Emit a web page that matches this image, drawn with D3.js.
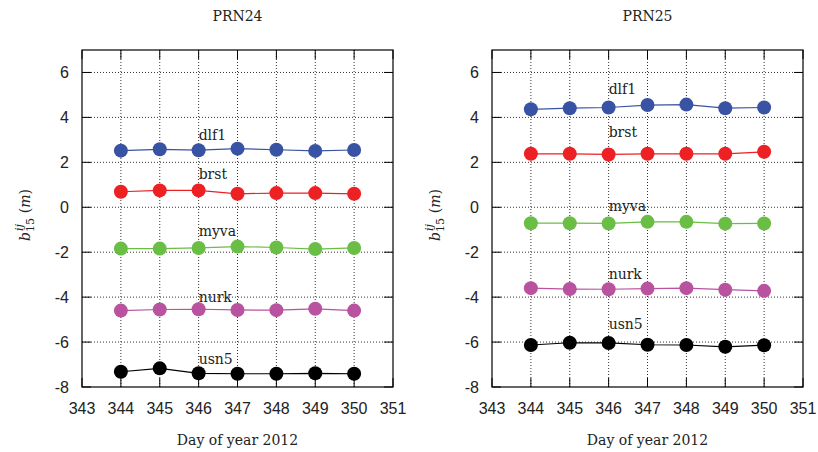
<!DOCTYPE html>
<html>
<head>
<meta charset="utf-8">
<script src="https://cdn.jsdelivr.net/npm/d3@7"></script>
<style>
  body { margin: 0; background: #fff; }
  svg { display: block; }
</style>
</head>
<body>
<svg id="canvas" width="818" height="452"></svg>
<script>
const days = [344, 345, 346, 347, 348, 349, 350]
const stations = ["dlf1", "brst", "myva", "nurk", "usn5"]
const colors = ["#3953a4", "#ed2024", "#6abd45", "#b9529f", "#000000"]
const xTicks = [343, 344, 345, 346, 347, 348, 349, 350, 351]
const yTicks = [-8, -6, -4, -2, 0, 2, 4, 6]

// PRN24
const prn24 = [
  [2.52, 2.58, 2.54, 2.61, 2.56, 2.51, 2.55],
  [0.69, 0.75, 0.75, 0.60, 0.63, 0.63, 0.60],
  [-1.84, -1.84, -1.81, -1.75, -1.79, -1.86, -1.81],
  [-4.60, -4.55, -4.54, -4.57, -4.58, -4.52, -4.60],
  [-7.32, -7.17, -7.39, -7.41, -7.41, -7.39, -7.41]
]
const prn24Labels = [2.99, 1.24, -1.30, -4.22, -6.98]

// PRN25
const prn25 = [
  [4.36, 4.41, 4.44, 4.55, 4.57, 4.41, 4.44],
  [2.38, 2.38, 2.35, 2.38, 2.38, 2.38, 2.47],
  [-0.71, -0.71, -0.72, -0.65, -0.65, -0.73, -0.72],
  [-3.60, -3.64, -3.65, -3.62, -3.60, -3.67, -3.72],
  [-6.13, -6.03, -6.04, -6.12, -6.13, -6.21, -6.14]
]
const prn25Labels = [5.03, 3.14, -0.18, -3.20, -5.43]

const svg = d3.select("#canvas")
const serif = "'DejaVu Serif', serif"
const sans = "'Liberation Sans', Arial, sans-serif"

function panel(left, title, series, labelY) {
  const x = d3.scaleLinear().domain([343, 351]).range([left, left + 311])
  const y = d3.scaleLinear().domain([-8, 7]).range([387, 50])
  const g = svg.append("g")

  // grid
  g.selectAll(".gx").data(xTicks.slice(1, -1)).enter().append("line")
    .attr("x1", d => x(d)).attr("x2", d => x(d))
    .attr("y1", y(7)).attr("y2", y(-8))
    .attr("stroke", "#000").attr("stroke-width", 0.8).attr("stroke-dasharray", "1,2")
  g.selectAll(".gy").data(yTicks.slice(1)).enter().append("line")
    .attr("x1", x(343)).attr("x2", x(351))
    .attr("y1", d => y(d)).attr("y2", d => y(d))
    .attr("stroke", "#000").attr("stroke-width", 0.8).attr("stroke-dasharray", "1,2")

  // ticks (inward, all four sides)
  const tk = 9
  g.selectAll(".tb").data(xTicks).enter().append("line")
    .attr("x1", d => x(d)).attr("x2", d => x(d))
    .attr("y1", y(-8)).attr("y2", y(-8) - tk).attr("stroke", "#000")
  g.selectAll(".tt").data(xTicks).enter().append("line")
    .attr("x1", d => x(d)).attr("x2", d => x(d))
    .attr("y1", y(7)).attr("y2", y(7) + tk).attr("stroke", "#000")
  g.selectAll(".tl").data(yTicks).enter().append("line")
    .attr("x1", x(343)).attr("x2", x(343) + tk)
    .attr("y1", d => y(d)).attr("y2", d => y(d)).attr("stroke", "#000")
  g.selectAll(".tr").data(yTicks).enter().append("line")
    .attr("x1", x(351)).attr("x2", x(351) - tk)
    .attr("y1", d => y(d)).attr("y2", d => y(d)).attr("stroke", "#000")

  // frame
  g.append("rect")
    .attr("x", x(343)).attr("y", y(7))
    .attr("width", x(351) - x(343)).attr("height", y(-8) - y(7))
    .attr("fill", "none").attr("stroke", "#000").attr("stroke-width", 1.2)

  // tick labels
  g.selectAll(".xl").data(xTicks).enter().append("text")
    .attr("x", d => x(d)).attr("y", 414)
    .attr("text-anchor", "middle")
    .style("font-family", sans).style("font-size", "16px").attr("fill", "#222")
    .text(d => d)
  g.selectAll(".yl").data(yTicks).enter().append("text")
    .attr("x", x(343) - 13).attr("y", d => y(d) + 6)
    .attr("text-anchor", "end")
    .style("font-family", sans).style("font-size", "16px").attr("fill", "#222")
    .text(d => d)

  // titles
  g.append("text").attr("x", (x(343) + x(351)) / 2).attr("y", 21)
    .attr("text-anchor", "middle").style("font-family", serif).style("font-size", "14px")
    .attr("fill", "#222").text(title)
  g.append("text").attr("x", (x(343) + x(351)) / 2).attr("y", 445)
    .attr("text-anchor", "middle").style("font-family", serif).style("font-size", "14px")
    .attr("fill", "#222").text("Day of year 2012")

  // y label
  const yl = g.append("text")
    .attr("transform", `translate(${left - 52},215) rotate(-90)`)
    .attr("text-anchor", "middle")
    .style("font-family", serif).style("font-size", "14px").attr("fill", "#222")
  yl.append("tspan").style("font-style", "italic").text("b")
  yl.append("tspan").style("font-size", "11px").attr("dy", 4).text("15")
  yl.append("tspan").style("font-size", "11px").style("font-style", "italic")
    .attr("dx", -13).attr("dy", -11).text("ij")
  yl.append("tspan").attr("dx", 11).attr("dy", 7).text("(")
  yl.append("tspan").style("font-style", "italic").text("m")
  yl.append("tspan").text(")")

  // series
  const line = d3.line().x((d, i) => x(days[i])).y(d => y(d))
  series.forEach((vals, k) => {
    g.append("path").datum(vals).attr("d", line)
      .attr("fill", "none").attr("stroke", colors[k]).attr("stroke-width", 1.2)
    g.selectAll(".p" + k).data(vals).enter().append("circle")
      .attr("cx", (d, i) => x(days[i])).attr("cy", d => y(d)).attr("r", 7)
      .attr("fill", colors[k])
    g.append("text").attr("x", x(346)).attr("y", y(labelY[k]))
      .style("font-family", serif).style("font-size", "14px").attr("fill", "#222")
      .text(stations[k])
  })
}

panel(82, "PRN24", prn24, prn24Labels)
panel(492, "PRN25", prn25, prn25Labels)
</script>
</body>
</html>
